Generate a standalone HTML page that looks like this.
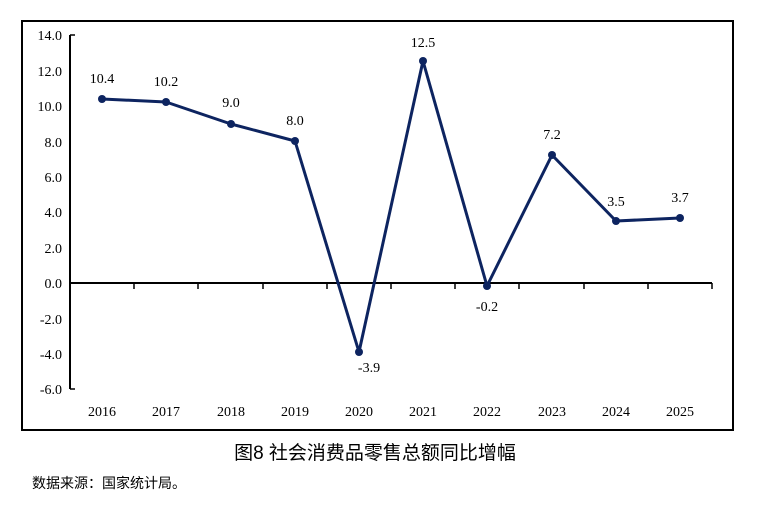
<!DOCTYPE html><html><head><meta charset="utf-8"><style>
body{margin:0;background:#fff;width:759px;height:501px;overflow:hidden}
</style></head><body>
<svg width="759" height="501" xmlns="http://www.w3.org/2000/svg" style="font-family:'Liberation Serif','Noto Serif CJK SC',serif">
<rect x="22" y="21" width="711" height="409" fill="none" stroke="#000" stroke-width="2"/>
<g stroke="#000" stroke-width="2" fill="none">
<line x1="70" y1="35" x2="70" y2="389"/>
<line x1="70" y1="283" x2="712" y2="283"/>
</g>
<g stroke="#000" stroke-width="1.5">
<line x1="70" y1="35" x2="75" y2="35"/><line x1="70" y1="389" x2="75" y2="389"/>
<line x1="134" y1="283" x2="134" y2="289"/><line x1="198" y1="283" x2="198" y2="289"/><line x1="263" y1="283" x2="263" y2="289"/><line x1="327" y1="283" x2="327" y2="289"/><line x1="391" y1="283" x2="391" y2="289"/><line x1="455" y1="283" x2="455" y2="289"/><line x1="519" y1="283" x2="519" y2="289"/><line x1="584" y1="283" x2="584" y2="289"/><line x1="648" y1="283" x2="648" y2="289"/><line x1="712" y1="283" x2="712" y2="289"/>
</g>
<g font-size="14" text-anchor="end" fill="#000">
<text x="62" y="40">14.0</text><text x="62" y="76">12.0</text><text x="62" y="111">10.0</text><text x="62" y="147">8.0</text><text x="62" y="182">6.0</text><text x="62" y="217">4.0</text><text x="62" y="253">2.0</text><text x="62" y="288">0.0</text><text x="62" y="324">-2.0</text><text x="62" y="359">-4.0</text><text x="62" y="394">-6.0</text>
</g>
<g font-size="14" text-anchor="middle" fill="#000">
<text x="102" y="416">2016</text><text x="166" y="416">2017</text><text x="231" y="416">2018</text><text x="295" y="416">2019</text><text x="359" y="416">2020</text><text x="423" y="416">2021</text><text x="487" y="416">2022</text><text x="552" y="416">2023</text><text x="616" y="416">2024</text><text x="680" y="416">2025</text>
</g>
<polyline fill="none" stroke="#0d2460" stroke-width="3" stroke-linejoin="round" points="102,99 166,102 231,124 295,141 359,352 423,61 487,286 552,155 616,221 680,218"/>
<g fill="#0d2460">
<circle cx="102" cy="99" r="4"/><circle cx="166" cy="102" r="4"/><circle cx="231" cy="124" r="4"/><circle cx="295" cy="141" r="4"/><circle cx="359" cy="352" r="4"/><circle cx="423" cy="61" r="4"/><circle cx="487" cy="286" r="4"/><circle cx="552" cy="155" r="4"/><circle cx="616" cy="221" r="4"/><circle cx="680" cy="218" r="4"/>
</g>
<g font-size="14" text-anchor="middle" fill="#000">
<text x="102" y="83">10.4</text><text x="166" y="86">10.2</text><text x="231" y="107">9.0</text><text x="295" y="125">8.0</text><text x="369" y="372">-3.9</text><text x="423" y="47">12.5</text><text x="487" y="311">-0.2</text><text x="552" y="139">7.2</text><text x="616" y="206">3.5</text><text x="680" y="202">3.7</text>
</g>
<text x="375" y="459" font-size="19" text-anchor="middle" font-family="'Liberation Sans','Noto Sans CJK SC',sans-serif">图8  社会消费品零售总额同比增幅</text>
<text x="32" y="488" font-size="14" font-family="'Liberation Sans','Noto Sans CJK SC',sans-serif">数据来源：国家统计局。</text>
</svg>
</body></html>
